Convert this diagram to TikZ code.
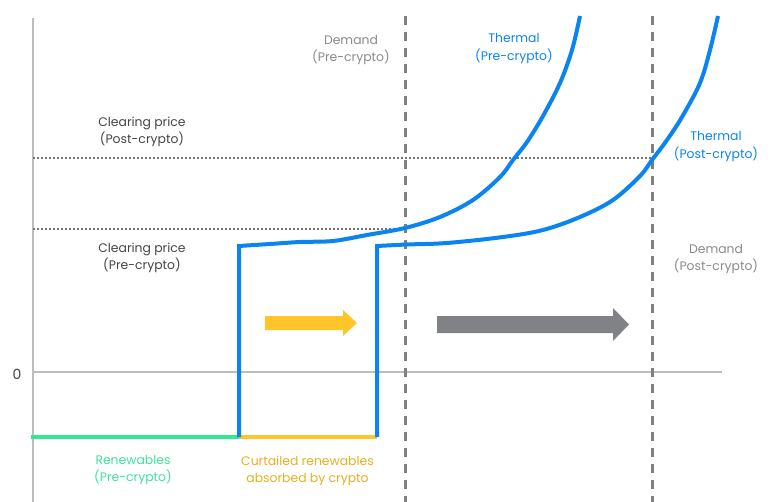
\documentclass[tikz,border=0pt]{standalone}
\usepackage{fontspec}
\setmainfont{Poppins}
\definecolor{thermalblue}{HTML}{0A84F0}
\definecolor{renewgreen}{HTML}{33E894}
\definecolor{curtyellow}{HTML}{FFC52B}
\definecolor{curttext}{HTML}{E8AE1E}
\definecolor{arrowgray}{HTML}{808285}
\definecolor{axisgray}{HTML}{BDBDBD}
\definecolor{dashgray}{HTML}{808080}
\definecolor{dotgray}{HTML}{747474}
\definecolor{labeldark}{HTML}{444444}
\definecolor{labelgray}{HTML}{8A8A8A}
\definecolor{renewtext}{HTML}{3DE39B}
\begin{document}
\begin{tikzpicture}[x=1pt,y=-1pt,
  lbl/.style={align=center,font=\fontsize{12.4}{17.5}\selectfont,inner sep=0pt},
  axisline/.style={draw=axisgray,line width=1.5pt},
  dotline/.style={draw=dotgray,line width=2.2pt,dash pattern=on 2pt off 2pt},
  demandline/.style={draw=dashgray,line width=3pt,dash pattern=on 9pt off 7pt},
  thermalline/.style={draw=thermalblue,line width=4pt,line join=miter},
  flatline/.style={line width=4pt}
]
\useasboundingbox (0,0) rectangle (775,502);
% coordinates
\coordinate (axtop) at (33,18);
\coordinate (axbot) at (33,502);
\coordinate (zl) at (33,372);
\coordinate (zr) at (722,372);
\coordinate (cpostL) at (33,158);
\coordinate (cpostR) at (652,158);
\coordinate (cpreL) at (33,229);
\coordinate (cpreR) at (405,229);
\coordinate (d1t) at (405,16);
\coordinate (d1b) at (405,502);
\coordinate (d2t) at (652,16);
\coordinate (d2b) at (652,502);
\coordinate (g0) at (31,437);
\coordinate (g1) at (239,437);
\coordinate (y1) at (377,437);
\coordinate (t1) at (239,246);
\coordinate (t2) at (377,246);
% axes
\draw[axisline] (axtop) -- (axbot);
\draw[axisline] (zl) -- (zr);
% clearing price dotted
\draw[dotline] (cpostL) -- (cpostR);
\draw[dotline] (cpreL) -- (cpreR);
% demand dashed
\draw[demandline] (d1t) -- (d1b);
\draw[demandline] (d2t) -- (d2b);
% renewables
\draw[flatline,draw=renewgreen] (g0) -- (g1);
\draw[flatline,draw=curtyellow] (g1) -- (y1);
% thermal curves
\draw[thermalline] (g1) -- (t1) -- plot[smooth,tension=0.55] coordinates {(239,246) (270,244) (300,242) (333,241) (367,235) (405,228) (440,217) (473,200) (500,177) (513,160) (527,142) (543,116) (560,83) (572,50) (580,16)};
\draw[thermalline] (y1) -- (t2) -- plot[smooth,tension=0.55] coordinates {(377,246) (407,244.5) (447,243) (503,237) (543,230) (580,217) (613,200) (640,176) (652,160) (667,140) (682,117) (700,83) (710,50) (718,16)};
% shift arrows
\fill[curtyellow] (265,316) -- (343,316) -- (343,310) -- (357,323) -- (343,336) -- (343,330) -- (265,330) -- cycle;
\fill[arrowgray] (437,316) -- (613,316) -- (613,308) -- (629,324.5) -- (613,341) -- (613,333) -- (437,333) -- cycle;
% labels
\node[lbl,text=labelgray] (ldpre) at (351,50) {Demand\\(Pre-crypto)};
\node[lbl,text=thermalblue] (ltpre) at (514,48.5) {Thermal\\(Pre-crypto)};
\node[lbl,text=labeldark] (lcpost) at (142,132) {Clearing price\\(Post-crypto)};
\node[lbl,text=labeldark] (lcpre) at (142,258) {Clearing price\\(Pre-crypto)};
\node[lbl,text=thermalblue] (ltpost) at (716,146.5) {Thermal\\(Post-crypto)};
\node[lbl,text=labelgray] (ldpost) at (716,259) {Demand\\(Post-crypto)};
\node[lbl,text=labeldark,font=\fontsize{14}{16}\selectfont] (lzero) at (17,374) {0};
\node[lbl,text=renewtext] (lren) at (133,470) {Renewables\\(Pre-crypto)};
\node[lbl,text=curttext] (lcurt) at (307.5,471) {Curtailed renewables\\absorbed by crypto};
\end{tikzpicture}
\end{document}
